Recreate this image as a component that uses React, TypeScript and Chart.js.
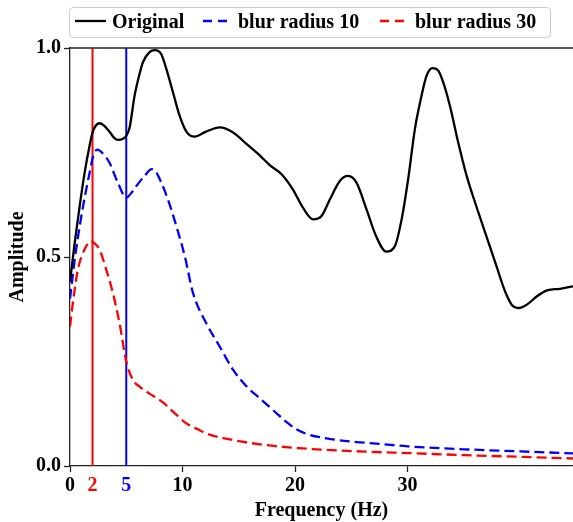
import React, { useEffect, useRef } from "react";
import { Chart, registerables } from "chart.js";

Chart.register(...registerables);

// ---- data ----
const xMin = 0;
const xMax = 44.7;
const yMin = 0;
const yMax = 1.0;
const xTickValues = [0, 2, 5, 10, 20, 30];
const yTickValues = [0, 0.5, 1.0];

const seriesNames = ["Original", "blur radius 10", "blur radius 30"];

const originalFreq = [0, 0.4, 0.85, 1.29, 1.73, 2.03, 2.62, 3.0, 3.5, 4.0, 4.35, 4.7, 5.0, 5.3, 5.74, 6.2, 6.48, 7.07, 7.52, 8.1, 8.56, 9.15, 9.74, 10.34, 11.08, 12.1, 13.3, 14.5, 15.7, 16.9, 17.75, 18.8, 19.8, 20.7, 21.6, 22.35, 23.1, 23.98, 24.7, 25.46, 26.35, 27.2, 28.1, 28.87, 29.47, 30.05, 30.65, 31.24, 31.69, 32.2, 32.7, 33.17, 33.76, 34.5, 35.25, 36.1, 37.0, 37.9, 38.66, 39.25, 39.93, 40.6, 41.5, 42.4, 43.55, 44.7];
const originalAmp = [0.44, 0.53, 0.62, 0.70, 0.765, 0.80, 0.82, 0.815, 0.80, 0.783, 0.78, 0.783, 0.79, 0.81, 0.886, 0.94, 0.966, 0.99, 0.995, 0.986, 0.95, 0.894, 0.838, 0.80, 0.788, 0.80, 0.81, 0.798, 0.77, 0.742, 0.72, 0.698, 0.662, 0.618, 0.59, 0.598, 0.638, 0.682, 0.694, 0.678, 0.614, 0.55, 0.513, 0.526, 0.59, 0.686, 0.806, 0.886, 0.934, 0.952, 0.947, 0.918, 0.862, 0.774, 0.694, 0.622, 0.55, 0.478, 0.418, 0.386, 0.378, 0.386, 0.406, 0.42, 0.424, 0.43];

const blur10Freq = [0, 0.45, 0.9, 1.29, 1.73, 2.1, 2.45, 2.9, 3.5, 4.25, 5.0, 5.5, 5.9, 6.63, 7.25, 7.6, 8.0, 8.7, 9.45, 10.2, 10.93, 12.1, 13.3, 14.5, 15.7, 16.86, 18.04, 19.2, 20.1, 21.0, 22.8, 25.2, 27.5, 30, 35, 40, 44.7];
const blur10Amp = [0.40, 0.50, 0.58, 0.64, 0.70, 0.745, 0.757, 0.748, 0.726, 0.678, 0.642, 0.655, 0.67, 0.694, 0.71, 0.705, 0.685, 0.638, 0.574, 0.502, 0.414, 0.342, 0.286, 0.23, 0.19, 0.162, 0.134, 0.106, 0.088, 0.077, 0.066, 0.058, 0.053, 0.047, 0.04, 0.035, 0.03];

const blur30Freq = [0, 0.35, 0.7, 1.29, 1.89, 2.12, 2.62, 3.22, 3.81, 4.4, 5.0, 5.59, 6.18, 6.9, 7.37, 8.26, 9.15, 10.34, 11.5, 12.1, 14.5, 17.45, 20.7, 26.6, 30, 35, 40, 44.7];
const blur30Amp = [0.334, 0.41, 0.47, 0.518, 0.538, 0.534, 0.518, 0.47, 0.414, 0.342, 0.25, 0.206, 0.19, 0.176, 0.168, 0.152, 0.13, 0.102, 0.086, 0.078, 0.062, 0.05, 0.042, 0.034, 0.031, 0.026, 0.022, 0.018];

const markerFreqs = [2, 5];

const COLORS = { black: "#000000", blue: "#0000ff", red: "#ff0000" };
const FONT_FAMILY = "'Liberation Serif', 'Times New Roman', serif";
const LINE_W = 2.3;
const DASH = [10, 5];

function pts(xs: number[], ys: number[]) {
  return xs.map((x, i) => ({ x, y: ys[i] }));
}

const legendPlugin = {
  id: "customLegendAndFrame",
  afterDraw(chart: any) {
    const ctx = chart.ctx as CanvasRenderingContext2D;
    const area = chart.chartArea;
    ctx.save();
    // top spine
    ctx.strokeStyle = "#222";
    ctx.lineWidth = 1.3;
    ctx.beginPath();
    ctx.moveTo(area.left, area.top);
    ctx.lineTo(area.right, area.top);
    ctx.stroke();

    // legend box
    const bx = 69.5, by = 7.5, bw = 481, bh = 30, r = 4;
    ctx.fillStyle = "rgba(255,255,255,0.9)";
    ctx.strokeStyle = "#cccccc";
    ctx.lineWidth = 1;
    ctx.beginPath();
    ctx.moveTo(bx + r, by);
    ctx.lineTo(bx + bw - r, by);
    ctx.arcTo(bx + bw, by, bx + bw, by + r, r);
    ctx.lineTo(bx + bw, by + bh - r);
    ctx.arcTo(bx + bw, by + bh, bx + bw - r, by + bh, r);
    ctx.lineTo(bx + r, by + bh);
    ctx.arcTo(bx, by + bh, bx, by + bh - r, r);
    ctx.lineTo(bx, by + r);
    ctx.arcTo(bx, by, bx + r, by, r);
    ctx.closePath();
    ctx.fill();
    ctx.stroke();

    const items = [
      { label: seriesNames[0], color: COLORS.black, dash: [] as number[], x0: 75, x1: 106, tx: 112 },
      { label: seriesNames[1], color: COLORS.blue, dash: [9, 6], x0: 203, x1: 227, tx: 238 },
      { label: seriesNames[2], color: COLORS.red, dash: [9, 6], x0: 380, x1: 404, tx: 415 },
    ];
    const ly = 21;
    ctx.font = `bold 20px ${FONT_FAMILY}`;
    ctx.textBaseline = "alphabetic";
    ctx.textAlign = "left";
    for (const it of items) {
      ctx.strokeStyle = it.color;
      ctx.lineWidth = LINE_W;
      ctx.setLineDash(it.dash);
      ctx.beginPath();
      ctx.moveTo(it.x0, ly);
      ctx.lineTo(it.x1, ly);
      ctx.stroke();
      ctx.setLineDash([]);
      ctx.fillStyle = "#000";
      ctx.fillText(it.label, it.tx, 27.5);
    }
    ctx.restore();
  },
};

export default function App() {
  const canvasRef = useRef<HTMLCanvasElement | null>(null);

  useEffect(() => {
    if (!canvasRef.current) return;
    const tickColor = (v: number) =>
      v === markerFreqs[0] ? COLORS.red : v === markerFreqs[1] ? COLORS.blue : "#000";

    const chart = new Chart(canvasRef.current, {
      type: "line",
      data: {
        datasets: [
          {
            label: seriesNames[0],
            data: pts(originalFreq, originalAmp),
            borderColor: COLORS.black,
            borderWidth: LINE_W,
            pointRadius: 0,
            cubicInterpolationMode: "monotone",
            fill: false,
            order: 1,
          },
          {
            label: seriesNames[1],
            data: pts(blur10Freq, blur10Amp),
            borderColor: COLORS.blue,
            borderWidth: LINE_W,
            borderDash: DASH,
            pointRadius: 0,
            cubicInterpolationMode: "monotone",
            fill: false,
            order: 2,
          },
          {
            label: seriesNames[2],
            data: pts(blur30Freq, blur30Amp),
            borderColor: COLORS.red,
            borderWidth: LINE_W,
            borderDash: DASH,
            pointRadius: 0,
            cubicInterpolationMode: "monotone",
            fill: false,
            order: 3,
          },
          {
            label: "marker2",
            data: [{ x: markerFreqs[0], y: yMin }, { x: markerFreqs[0], y: yMax }],
            borderColor: COLORS.red,
            borderWidth: 2,
            pointRadius: 0,
            fill: false,
            order: 4,
          },
          {
            label: "marker5",
            data: [{ x: markerFreqs[1], y: yMin }, { x: markerFreqs[1], y: yMax }],
            borderColor: COLORS.blue,
            borderWidth: 2,
            pointRadius: 0,
            fill: false,
            order: 5,
          },
        ],
      },
      options: {
        animation: false,
        responsive: false,
        maintainAspectRatio: false,
        layout: { padding: { top: 48, right: 0, left: 0, bottom: 0 } },
        plugins: {
          legend: { display: false },
          tooltip: { enabled: false },
          title: { display: false },
        },
        scales: {
          x: {
            type: "linear",
            min: xMin,
            max: xMax,
            afterBuildTicks: (scale: any) => {
              scale.ticks = xTickValues.map((v) => ({ value: v }));
            },
            afterFit: (scale: any) => {
              scale.height = 56;
            },
            ticks: {
              autoSkip: false,
              maxRotation: 0,
              padding: 2,
              font: { family: FONT_FAMILY, size: 20, weight: "bold" },
              color: (ctx: any) => tickColor(ctx.tick.value),
              callback: (v: any) => String(v),
            },
            grid: {
              drawOnChartArea: false,
              drawTicks: true,
              tickLength: 6,
              tickWidth: 1.3,
              tickColor: (ctx: any) =>
                markerFreqs.includes(ctx.tick?.value) ? "rgba(0,0,0,0)" : "#222",
            },
            border: { display: true, color: "#222", width: 1.3 },
            title: {
              display: true,
              text: "Frequency (Hz)",
              font: { family: FONT_FAMILY, size: 20, weight: "bold" },
              color: "#000",
              padding: { top: 0, bottom: -1 },
            },
          },
          y: {
            type: "linear",
            min: yMin,
            max: yMax,
            afterBuildTicks: (scale: any) => {
              scale.ticks = yTickValues.map((v) => ({ value: v }));
            },
            afterFit: (scale: any) => {
              scale.width = 70;
            },
            ticks: {
              padding: 3,
              font: { family: FONT_FAMILY, size: 20, weight: "bold" },
              color: "#000",
              callback: (v: any) => Number(v).toFixed(1),
            },
            grid: {
              drawOnChartArea: false,
              drawTicks: true,
              tickLength: 6,
              tickWidth: 1.3,
              tickColor: "#222",
            },
            border: { display: true, color: "#222", width: 1.3 },
            title: {
              display: true,
              text: "Amplitude",
              font: { family: FONT_FAMILY, size: 20, weight: "bold" },
              color: "#000",
              padding: { top: 6, bottom: 0 },
            },
          },
        },
      },
      plugins: [legendPlugin],
    } as any);

    return () => chart.destroy();
  }, []);

  return (
    <div style={{ position: "absolute", left: 0, top: 0, width: 573, height: 522, background: "#fff" }}>
      <canvas ref={canvasRef} width={573} height={522} style={{ display: "block" }} />
    </div>
  );
}
